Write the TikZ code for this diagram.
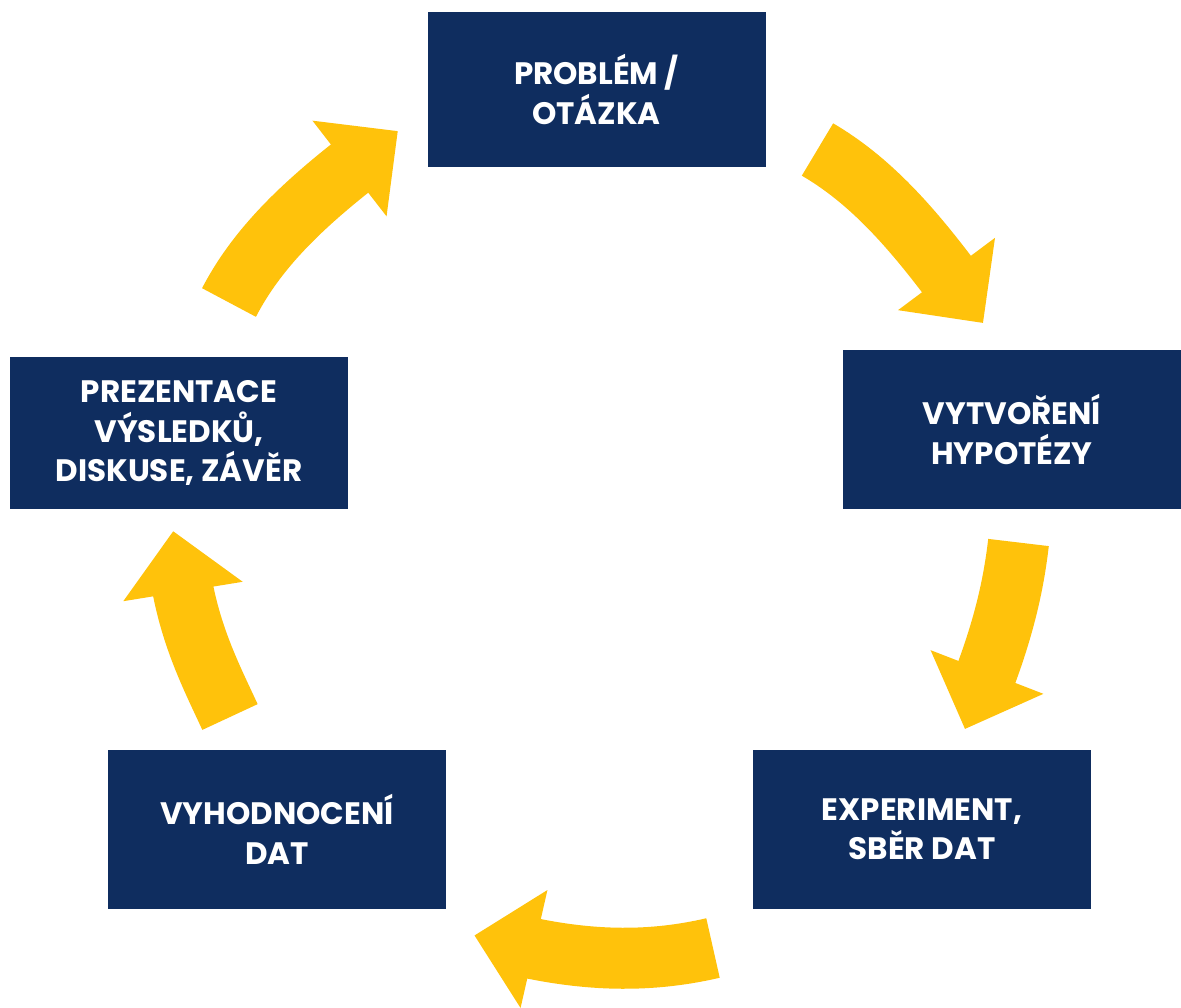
\documentclass[tikz,border=0pt]{standalone}
\usepackage{fontspec}
\setmainfont{Poppins}
\usetikzlibrary{arrows.meta}
\definecolor{boxblue}{HTML}{0F2D5F}
\definecolor{arrowyellow}{HTML}{FFC20B}

\begin{document}
\begin{tikzpicture}[x=1pt, y=-1pt,
    stepbox/.style={fill=boxblue, text=white, minimum width=338pt, minimum height=157pt,
        inner sep=0pt, align=center, font=\bfseries\fontsize{31}{39.3}\selectfont},
    cyclearrow/.style={draw=arrowyellow, line width=61pt, shorten >=-15pt,
        postaction={draw, line width=0.1pt,
            -{Triangle[length=61pt,width=121pt,line width=0pt]}, shorten >=-61pt}}]
    \useasboundingbox (0,0) rectangle (1181,1008);

    \draw (596.5,89.5) node [stepbox, minimum height=155pt] (problem) {PROBLÉM /\\OTÁZKA} ;
    \draw (1012,429.5) node [stepbox, minimum height=159pt] (hypo) {VYTVOŘENÍ\\HYPOTÉZY} ;
    \draw (922,829.5) node [stepbox, minimum height=159pt] (exp) {EXPERIMENT,\\SBĚR DAT} ;
    \draw (277,829.5) node [stepbox, minimum height=159pt] (eval) {VYHODNOCENÍ\\DAT} ;
    \draw (179,433) node [stepbox, minimum height=152pt] (pres) {PREZENTACE\\VÝSLEDKŮ,\\DISKUSE, ZÁVĚR} ;

    \coordinate (t1) at (229,302.5);   \coordinate (b1) at (349.5,168.5);
    \coordinate (t2) at (817.5,149.5); \coordinate (b2) at (946.5,274);
    \coordinate (t3) at (1018.5,542.5); \coordinate (b3) at (987,672);
    \coordinate (t4) at (713,948);     \coordinate (b4) at (534,949);
    \coordinate (t5) at (230,717);     \coordinate (b5) at (183,591.5);

    \draw[cyclearrow] (t1) .. controls +(27.9,-53.8) and +(-47.9,37.1) .. (b1);
    \draw[cyclearrow] (t2) .. controls +(52.1,30.5) and +(-36.1,-48.4) .. (b2);
    \draw[cyclearrow] (t3) .. controls +(-5.1,44.3) and +(16.1,-41.6) .. (b3);
    \draw[cyclearrow] (t4) .. controls +(-58.8,13.7) and +(58.8,13.4) .. (b4);
    \draw[cyclearrow] (t5) .. controls +(-18.9,-40.7) and +(7.2,44.3) .. (b5);
\end{tikzpicture}
\end{document}
